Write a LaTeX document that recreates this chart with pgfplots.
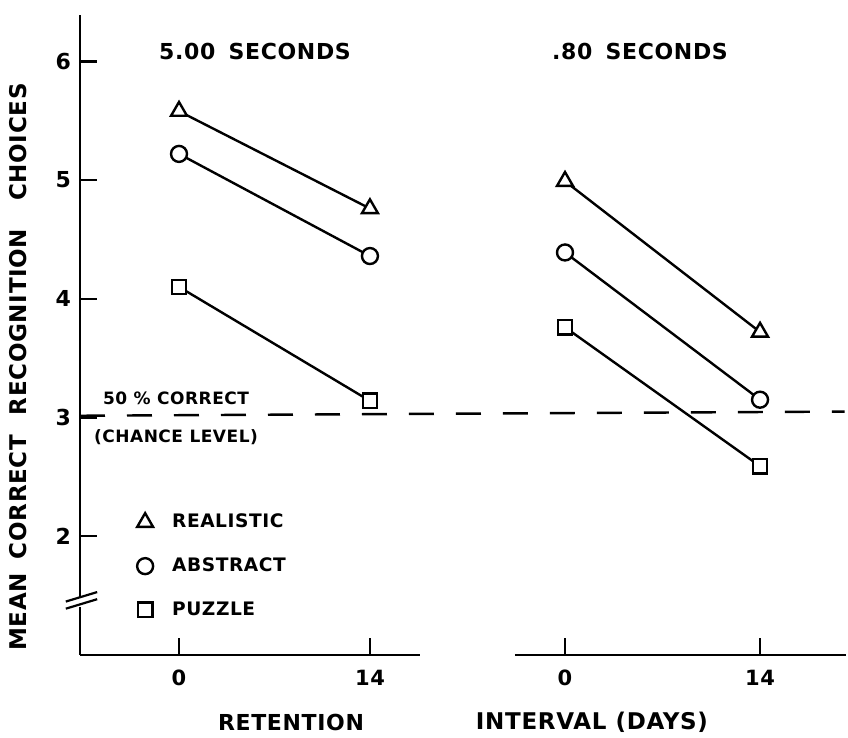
\documentclass[border=0pt]{standalone}
\usepackage{fontspec}
\setmainfont{DejaVu Sans}[LetterSpace=3]
\usepackage{pgfplots}
\pgfplotsset{compat=1.18}
\newcommand\fz[1]{\fontsize{#1}{#1}\selectfont\bfseries}
\begin{document}
\begin{tikzpicture}
\path[use as bounding box] (-40pt,-41.5pt) rectangle (384pt,327.5pt);
\pgfplotsset{
  common/.style={
    scale only axis, height=320pt, ymin=1, ymax=6.39,
    axis x line*=bottom, clip=false,
    axis line style={line width=1.2pt, black},
    tick align=inside, major tick length=8.5pt,
    every tick/.style={line width=1.2pt, black},
    xtick={0,14}, xticklabels={0,14},
    xticklabel style={font=\fz{10.5}, yshift=-4pt},
    /pgf/number format/assume math mode=true,
    every axis plot/.append style={line width=1.2pt, black, mark options={fill=white, solid, line width=1.2pt}},
  },
  tri/.style={mark=triangle*, mark size=4.6pt},
  cir/.style={mark=*, mark size=4pt},
  squ/.style={mark=square*, mark size=3.6pt},
}
\begin{axis}[common,
  at={(0,0)}, anchor=south west, width=170pt,
  xmin=-7.26, xmax=17.67,
  axis y line*=left,
  ytick={2,3,4,5,6}, yticklabels={2,3,4,5,6},
  yticklabel style={font=\fz{11}, xshift=-1pt},
  legend style={at={(axis cs:-3.1,2.225)}, anchor=north west, draw=none, fill=none,
    font=\fz{9.3}, row sep=9.5pt, column sep=7.5pt, inner sep=0pt, nodes={inner sep=2pt}},
  legend cell align=left,
  legend image code/.code={\draw[#1] plot[only marks] coordinates {(0.2cm,0cm)};},
]
\addplot[tri] coordinates {(0,5.58) (14,4.76)};
\addlegendentry{REALISTIC}
\addplot[cir] coordinates {(0,5.22) (14,4.36)};
\addlegendentry{ABSTRACT}
\addplot[squ] coordinates {(0,4.10) (14,3.14)};
\addlegendentry{PUZZLE}
\addplot[line width=1.2pt, dash pattern=on 12.5pt off 11pt, mark=none, forget plot]
  coordinates {(-7.26,3.015) (48.8,3.05)};
% axis break
\fill[white] (axis cs:-7.8,1.40) rectangle (axis cs:-6.7,1.48);
\draw[line width=1.1pt] (axis cs:-8.3,1.39) -- (axis cs:-6.0,1.47);
\draw[line width=1.1pt] (axis cs:-8.3,1.45) -- (axis cs:-6.0,1.53);
\end{axis}
\begin{axis}[common,
  at={(217.5pt,0)}, anchor=south west, width=165.5pt,
  xmin=-3.59, xmax=20.17,
  axis y line=none, ytick=\empty,
]
\addplot[tri] coordinates {(0,4.99) (14,3.72)};
\addplot[cir] coordinates {(0,4.39) (14,3.15)};
\addplot[squ] coordinates {(0,3.76) (14,2.59)};
\end{axis}
% texts
\node[font=\fz{11}] at (87.5pt,301.5pt) {5.00\hspace{0.6em}SECONDS};
\node[font=\fz{11}] at (280pt,301.5pt) {.80\hspace{0.6em}SECONDS};
\node[font=\fz{8.5}] at (48pt,128.5pt) {50 \% CORRECT};
\node[font=\fz{8.5}] at (48pt,109pt) {(CHANCE LEVEL)};
\node[font=\fz{11.5}, rotate=90] at (-31pt,21.5pt) {MEAN};
\node[font=\fz{11.5}, rotate=90] at (-31pt,79pt) {CORRECT};
\node[font=\fz{11.5}, rotate=90] at (-31pt,166.5pt) {RECOGNITION};
\node[font=\fz{11.5}, rotate=90] at (-31pt,256.5pt) {CHOICES};
\node[font=\fz{11}] at (105.5pt,-33.5pt) {RETENTION};
\node[font=\fz{11.5}] at (256pt,-33.5pt) {INTERVAL\hspace{0.4em}(DAYS)};
\end{tikzpicture}
\end{document}
